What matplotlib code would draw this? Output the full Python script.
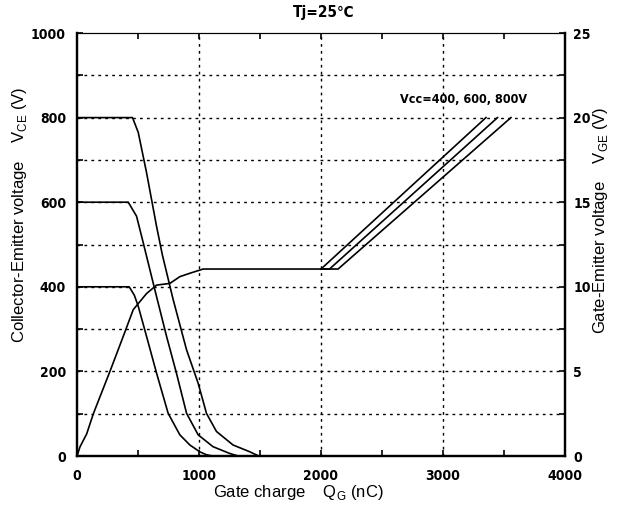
import matplotlib
matplotlib.use("Agg")
import matplotlib.pyplot as plt
from matplotlib.font_manager import FontProperties

# Gate charge characteristics, Tj = 25 C
# VCE curves (left axis, V) for Vcc = 400, 600, 800 V
qg_400 = [0, 428, 470, 502, 570, 652, 747, 843, 925, 1006, 1060, 1110]
vce_400 = [400, 400, 380, 354, 283, 196, 101, 50, 26, 10, 3, 0]
qg_600 = [0, 420, 488, 543, 638, 734, 815, 898, 993, 1115, 1252, 1320]
vce_600 = [600, 600, 567, 504, 393, 283, 196, 101, 50, 22, 6, 0]
qg_800 = [0, 455, 502, 570, 652, 700, 788, 898, 993, 1061, 1143, 1279, 1416, 1490]
vce_800 = [800, 800, 765, 670, 543, 475, 370, 251, 172, 101, 58, 26, 10, 0]

# VGE curve (right axis, V): common rise + plateau, then one ramp per Vcc
qg_rise = [0, 25, 79, 134, 270, 379, 461, 570, 652, 761, 843, 925, 1034, 2000]
vge_rise = [0, 0.55, 1.3, 2.5, 5.0, 7.07, 8.65, 9.6, 10.1, 10.2, 10.6, 10.8, 11.05, 11.05]
qg_ramp_400 = [2000, 3352]
qg_ramp_600 = [2000, 2070, 3447]
qg_ramp_800 = [2000, 2140, 3557]
vge_ramp_400 = [11.05, 20]
vge_ramp_600 = [11.05, 11.05, 20]
vge_ramp_800 = [11.05, 11.05, 20]

narrow = FontProperties(family='DejaVu Sans', weight='bold', stretch='condensed', size=10)
label_font = {'family': ['Liberation Sans', 'DejaVu Sans'], 'size': 12}

fig = plt.figure(figsize=(6.24, 5.09), dpi=100)
ax = fig.add_axes([77 / 624, 53 / 509, 488 / 624, 423 / 509])
ax2 = ax.twinx()

lw = 1.2
ax.plot(qg_400, vce_400, color='black', lw=lw)
ax.plot(qg_600, vce_600, color='black', lw=lw)
ax.plot(qg_800, vce_800, color='black', lw=lw)

ax2.plot(qg_rise, vge_rise, color='black', lw=lw)
ax2.plot(qg_ramp_400, vge_ramp_400, color='black', lw=lw)
ax2.plot(qg_ramp_600, vge_ramp_600, color='black', lw=lw)
ax2.plot(qg_ramp_800, vge_ramp_800, color='black', lw=lw)

ax.set_xlim(0, 4000)
ax.set_ylim(0, 1000)
ax2.set_ylim(0, 25)

ax.set_xticks([0, 1000, 2000, 3000, 4000])
ax.set_xticks([500, 1500, 2500, 3500], minor=True)
ax.set_yticks([0, 200, 400, 600, 800, 1000])
ax.set_yticks([100, 300, 500, 700, 900], minor=True)
ax2.set_yticks([0, 5, 10, 15, 20, 25])
ax2.set_yticks([2.5, 7.5, 12.5, 17.5, 22.5], minor=True)

ax.tick_params(which='both', direction='in', top=True, length=4, width=1.2)
ax.tick_params(axis='x', pad=9)
ax.tick_params(axis='y', pad=8)
ax2.tick_params(which='both', direction='in', length=4, width=1.2, pad=6)
for lab in ax.get_xticklabels() + ax.get_yticklabels() + ax2.get_yticklabels():
    lab.set_fontproperties(narrow)

# dotted grid
for x in [1000, 2000, 3000]:
    ax.axvline(x, color='black', ls=(0, (2, 3)), lw=1.0, zorder=0)
for y in range(100, 1000, 100):
    ax.axhline(y, color='black', ls=(0, (2, 3)), lw=1.0, zorder=0)

for s in ['left', 'bottom', 'right']:
    ax.spines[s].set_linewidth(1.6)
    ax2.spines[s].set_linewidth(1.6)
ax.spines['top'].set_linewidth(0.8)
ax2.spines['top'].set_linewidth(0.8)

fig.text(324 / 624, 1 - 13 / 509, 'Tj=25\u2103', ha='center', va='center',
         fontproperties=FontProperties(family='DejaVu Sans', weight='bold',
                                       stretch='condensed', size=11))
ax.text(3170, 842, 'Vcc=400, 600, 800V', ha='center', va='center',
        fontproperties=FontProperties(family='DejaVu Sans', weight='bold',
                                      stretch='condensed', size=9))

fig.text(20 / 624, 1 - 215 / 509,
         'Collector-Emitter voltage    V$_{\\mathregular{CE}}$ (V)',
         rotation=90, ha='center', va='center', **label_font)
fig.text(600 / 624, 1 - 220 / 509,
         'Gate-Emitter voltage    V$_{\\mathregular{GE}}$ (V)',
         rotation=90, ha='center', va='center', **label_font)
fig.text(298 / 624, 1 - 493 / 509,
         'Gate charge    Q$_{\\mathregular{G}}$ (nC)',
         ha='center', va='center', **label_font)

fig.savefig('out.png', dpi=100)
